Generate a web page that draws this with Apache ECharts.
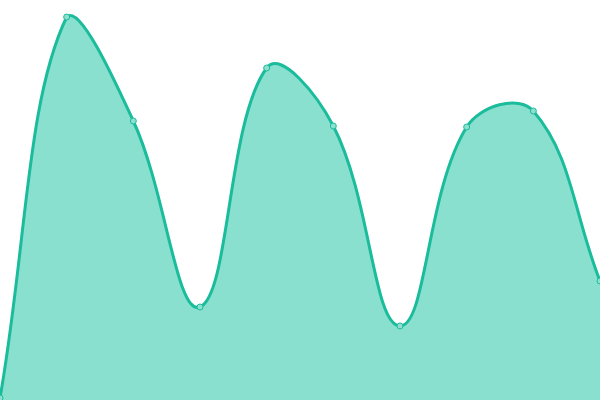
<!DOCTYPE html>
<html><head><meta charset="utf-8">
<script src="https://cdn.jsdelivr.net/npm/echarts@6/dist/echarts.min.js"></script>
<style>html,body{margin:0;padding:0;background:#fff}#c{width:600px;height:400px}</style>
</head><body><div id="c"></div>
<script>
var categories = ['1','2','3','4','5','6','7','8','9','10'];
var values = [2, 383, 279, 93, 332, 274, 74, 273, 289, 119];
var TENSION = 0.4;
var CAP_PAD = 4;

function smoothPath(pts, minY, maxY) {
  var cps = [];
  for (var i = 0; i < pts.length; i++) {
    var p = pts[i];
    var prev = pts[i === 0 ? i : i - 1];
    var next = pts[i === pts.length - 1 ? i : i + 1];
    var vx = (next[0] - prev[0]) * TENSION, vy = (next[1] - prev[1]) * TENSION;
    var d0 = Math.hypot(p[0] - prev[0], p[1] - prev[1]);
    var d1 = Math.hypot(p[0] - next[0], p[1] - next[1]);
    var s = d0 + d1;
    if (s !== 0) { d0 /= s; d1 /= s; }
    var c0 = [p[0] - vx * d0, Math.min(maxY, Math.max(minY, p[1] - vy * d0))];
    var c1 = [p[0] + vx * d1, Math.min(maxY, Math.max(minY, p[1] + vy * d1))];
    cps.push([c0, c1]);
  }
  var d = 'M' + pts[0][0] + ' ' + pts[0][1];
  for (var j = 1; j < pts.length; j++) {
    var a = cps[j - 1][1], b = cps[j][0], c = pts[j];
    d += ' C' + a[0] + ' ' + a[1] + ' ' + b[0] + ' ' + b[1] + ' ' + c[0] + ' ' + c[1];
  }
  return d;
}

var chart = echarts.init(document.getElementById('c'));
chart.setOption({
  animation: false,
  grid: {left: 0, right: 0, top: 0, bottom: 0},
  xAxis: {type: 'category', data: categories, boundaryGap: false, show: false},
  yAxis: {type: 'value', min: 0, max: 400, show: false},
  series: [{
    type: 'custom',
    data: values.map(function (v, i) { return [i, v]; }),
    z: 1,
    renderItem: function (params, api) {
      if (params.dataIndex !== 0) return null;
      var pts = values.map(function (v, i) { return api.coord([i, v]); });
      var base0 = api.coord([0, 0]), base1 = api.coord([values.length - 1, 0]);
      var top = api.coord([0, 400])[1];
      var line = smoothPath(pts, top + CAP_PAD, base0[1]);
      var area = line + ' L' + base1[0] + ' ' + base1[1] + ' L' + base0[0] + ' ' + base0[1] + ' Z';
      return {
        type: 'group',
        children: [
          {type: 'path', shape: {pathData: area}, style: {fill: '#8ae0cf', stroke: null}},
          {type: 'path', shape: {pathData: line}, style: {fill: null, stroke: '#1abc9c', lineWidth: 3}}
        ]
      };
    }
  }, {
    type: 'line',
    data: values,
    z: 3,
    symbol: 'circle',
    symbolSize: 6,
    showAllSymbol: true,
    lineStyle: {opacity: 0},
    itemStyle: {color: '#8de0cf', borderColor: '#1abc9c', borderWidth: 1}
  }]
});
</script></body></html>
